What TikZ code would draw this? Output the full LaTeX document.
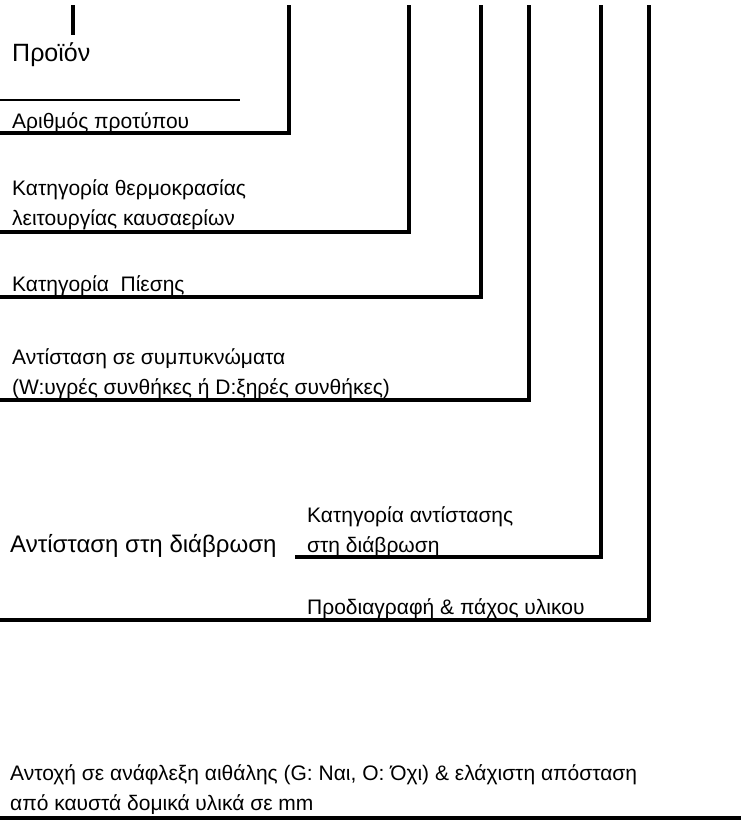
\documentclass[tikz,border=0pt]{standalone}
\usepackage{fontspec}
\setmainfont{Liberation Sans}

\tikzset{
  lead/.style={line width=4pt},
  small/.style={font=\fontsize{21}{30}\selectfont,inner sep=0,anchor=base west},
  large/.style={font=\fontsize{24}{30}\selectfont,inner sep=0,anchor=base west}
}

\begin{document}
\begin{tikzpicture}[x=1pt,y=-1pt]
    \useasboundingbox (0,0) rectangle (741,820);
    \foreach \n/\x in {Num/289,Temp/409,Pres/481,Cond/529,Corr/601,Mat/649}
      \coordinate (t\n) at (\x,5); %estremi superiori
    % prodotto
    \node[large,font=\fontsize{25}{30}\selectfont] (prod) at (12,61) {Προϊόν};
    \coordinate (tTick) at (73,5);
    \coordinate (bTick) at (73,35);
    \draw[lead] (tTick) -- (bTick);
    \coordinate (lThin) at (0,100);
    \coordinate (rThin) at (240,100);
    \draw[line width=2pt] (lThin) -- (rThin);
    % modello
    \node[small] (num) at (12,128) {Αριθμός προτύπου};
    \coordinate (eNum) at (0,133);
    \draw[lead] (tNum) |- (eNum);
    % temperatura
    \node[small] (temp1) at (12,195) {Κατηγορία θερμοκρασίας};
    \node[small] (temp2) at (12,225) {λειτουργίας καυσαερίων};
    \coordinate (eTemp) at (0,232);
    \draw[lead] (tTemp) |- (eTemp);
    % pressione
    \node[small] (pres) at (12,291) {Κατηγορία\ \ Πίεσης};
    \coordinate (ePres) at (0,297);
    \draw[lead] (tPres) |- (ePres);
    % condensa
    \node[small] (cond1) at (12,364) {Αντίσταση σε συμπυκνώματα};
    \node[small] (cond2) at (12,394) {(W:υγρές συνθήκες ή D:ξηρές συνθήκες)};
    \coordinate (eCond) at (0,400);
    \draw[lead] (tCond) |- (eCond);
    % corrosione
    \node[large] (corr) at (10,552) {Αντίσταση στη διάβρωση};
    \node[small] (corr1) at (307,522) {Κατηγορία αντίστασης};
    \node[small] (corr2) at (307,552) {στη διάβρωση};
    \coordinate (eCorr) at (295,557);
    \draw[lead] (tCorr) |- (eCorr);
    % materiale
    \node[small] (mat) at (307,614) {Προδιαγραφή \& πάχος υλικου};
    \coordinate (eMat) at (0,620);
    \draw[lead] (tMat) |- (eMat);
    % fuliggine
    \node[small] (soot1) at (10,780) {Αντοχή σε ανάφλεξη αιθάλης (G: Ναι, O: Όχι) \& ελάχιστη απόσταση};
    \node[small] (soot2) at (10,810) {από καυστά δομικά υλικά σε mm};
    \coordinate (lSoot) at (0,818);
    \coordinate (rSoot) at (741,818);
    \draw[lead] (lSoot) -- (rSoot);
\end{tikzpicture}
\end{document}
